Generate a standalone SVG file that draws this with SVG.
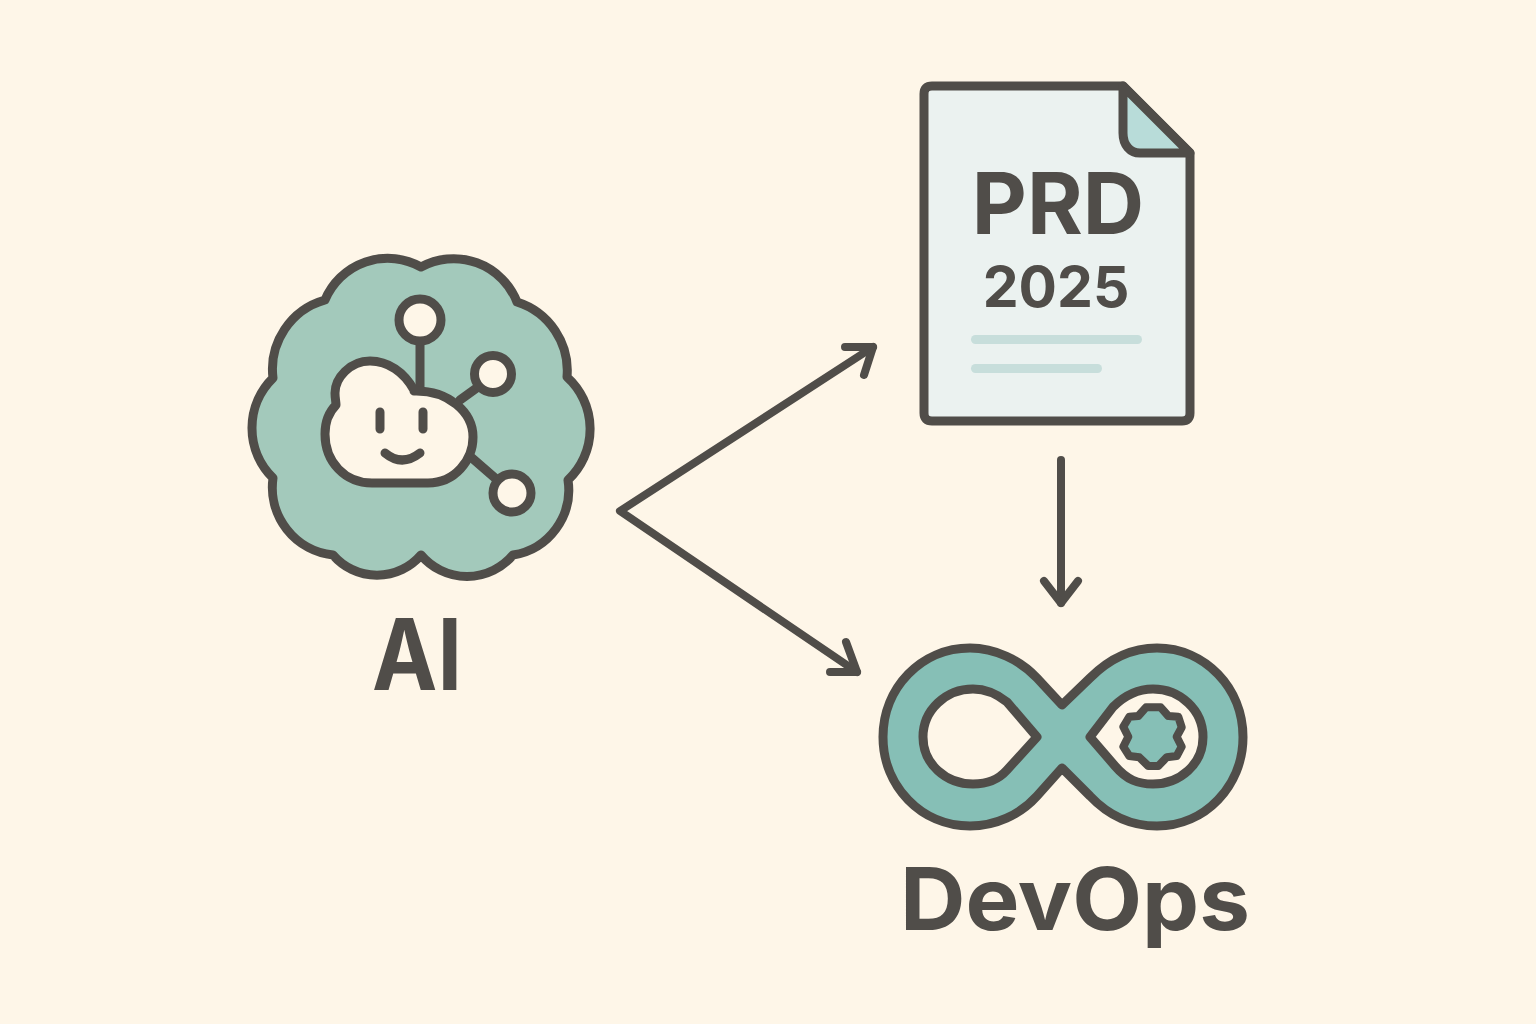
<svg xmlns="http://www.w3.org/2000/svg" width="1536" height="1024" viewBox="0 0 1536 1024">
<style>
.o{stroke:#504d49;stroke-width:9;stroke-linejoin:round;stroke-linecap:round}
.l{fill:none;stroke:#504d49;stroke-width:8;stroke-linecap:round;stroke-linejoin:round}
.t{font-family:Inter,"Liberation Sans",sans-serif;fill:#504d49;text-anchor:middle}
</style>
<rect width="1536" height="1024" fill="#fef6e8"/>
<g id="ai">
<path class="o" fill="#a3c9bb" d="M421,267A68,68 0 0 0 325,300A72,72 0 0 0 273,378A70,70 0 0 0 273,478A68,68 0 0 0 333,555A58,58 0 0 0 421,555A60,60 0 0 0 513,555A66,66 0 0 0 568,480A70,70 0 0 0 567,377A72,72 0 0 0 517,302A68,68 0 0 0 421,267Z"/>
<path class="o" fill="none" d="M420,341V390M460,400L478,387M472,458L495,478"/>
<path class="o" fill="#fef6e8" d="M414,390C404,372 388,361 370,361C350,361 335,378 335,393C335,398 336,402 336,405C329,412 325,423 325,434C325,462 345,483 372,483H428C455,483 473,460 473,437C473,412 448,390 414,391Z"/>
<circle class="o" fill="#fef6e8" cx="420" cy="320" r="21"/>
<circle class="o" fill="#fef6e8" cx="493" cy="374" r="18.500"/>
<circle class="o" fill="#fef6e8" cx="512" cy="493" r="19"/>
<path class="o" fill="none" d="M380,412V429M423,412V429M385,453Q402,467 420,453"/>
<text class="t" x="417" y="690" font-size="99" font-weight="700" textLength="90" lengthAdjust="spacingAndGlyphs">AI</text>
</g>
<g id="prd">
<path class="o" fill="#ebf2f0" d="M932,86H1123L1190,153V413Q1190,421 1182,421H932Q924,421 924,413V94Q924,86 932,86Z"/>
<path class="o" fill="#b8dcd9" d="M1123,86V133C1123,145 1130,153 1140,153H1190Z"/>
<text class="t" x="1058" y="234" font-size="85" font-weight="700">PRD</text>
<text class="t" x="1056" y="307" font-size="57" font-weight="700">2025</text>
<rect x="971" y="335" width="171" height="9" rx="4.500" fill="#c7dedb"/>
<rect x="971" y="364" width="131" height="9" rx="4.500" fill="#c7dedb"/>
</g>
<g id="devops">
<path class="o" fill="#86bfb6" fill-rule="evenodd" d="M1062,705L1037,678C1020,660 995,648 970,648C921,648 883,688 883,737C883,786 921,826 970,826C995,826 1020,815 1037,796L1062,768L1090,796C1108,815 1130,826 1157,826C1205,826 1243,786 1243,737C1243,688 1205,648 1157,648C1130,648 1108,660 1090,678ZM1037,737L1007,702C997,694 985,689 973,689C946,689 923,710 923,737C923,764 946,784 973,784C988,784 998,780 1007,770ZM1090,737L1113,707C1125,695 1138,689 1153,689C1180,689 1203,710 1203,737C1203,764 1180,784 1153,784C1138,784 1127,780 1115,766Z"/>
<path class="o" fill="#86bfb6" style="stroke-width:8" d="M1146,707.300H1160.700L1168.300,716L1178.300,716.700L1181.700,727.300L1176.700,736.700L1181.700,746.700L1176.700,756L1166.700,757.300L1158.300,766H1148.300L1139.300,757.300L1129.300,756L1123.300,746.700L1128.300,736.700L1123.300,726.700L1129.300,716.700L1138.300,716Z"/>
<text class="t" x="1075" y="930" font-size="87" font-weight="700" textLength="350" lengthAdjust="spacingAndGlyphs">DevOps</text>
</g>
<g id="connectors">
<path class="l" d="M873,347L620,511L857,672"/>
<path class="l" d="M845,347H873L864,375"/>
<path class="l" d="M830,672H857L846,642"/>
<path class="l" d="M1061,460V603"/>
<path class="l" d="M1044,581L1061,603L1078,581"/>
</g>
</svg>
